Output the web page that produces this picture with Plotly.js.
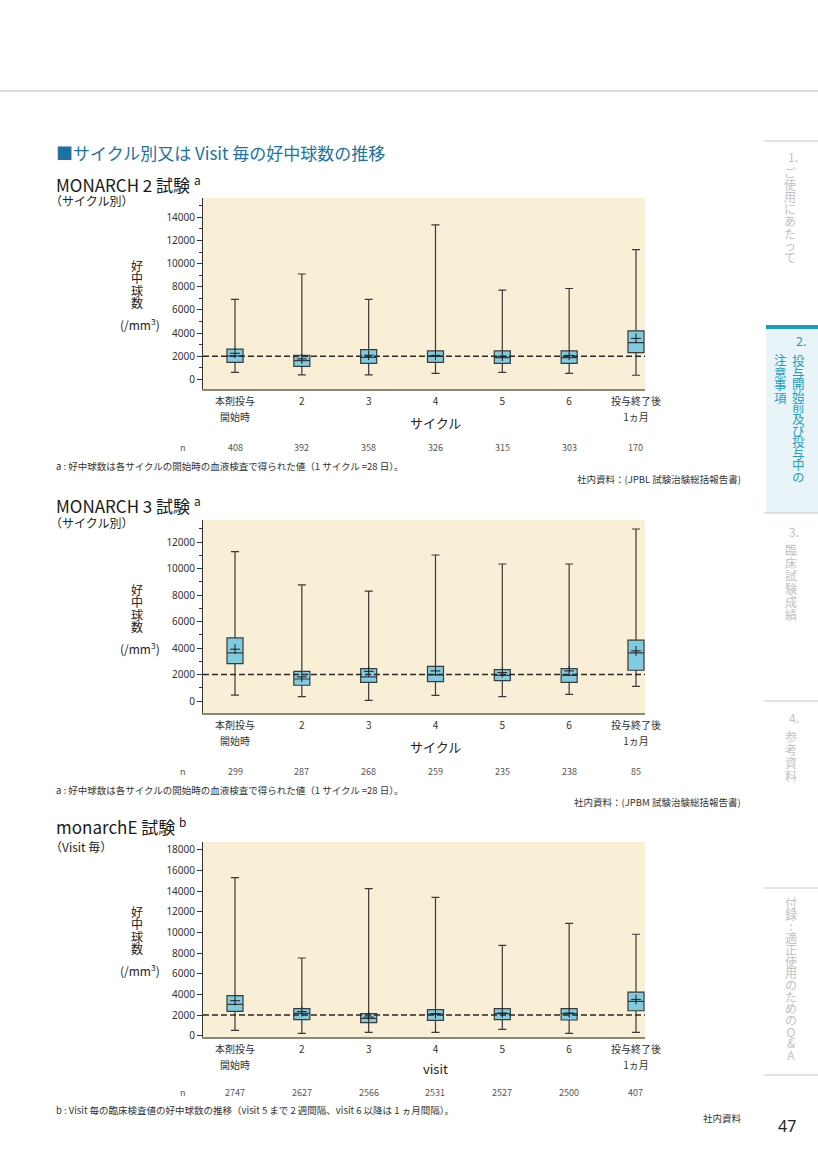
<!DOCTYPE html>
<html>
<head>
<meta charset="utf-8">
<script src="https://cdn.plot.ly/plotly-3.0.1.min.js"></script>
<style>
html,body{margin:0;padding:0;background:#fff;}
#chart{width:818px;height:1157px;}
</style>
</head>
<body>
<div id="chart"></div>
<script>
// ---------------- data ----------------
const categories = ['本剤投与<br>開始時', '2', '3', '4', '5', '6', '投与終了後<br>1ヵ月'];

// MONARCH 2 (cycle)
const m2Upper  = [6900, 9100, 6900, 13350, 7700, 7850, 11200];
const m2Q3     = [2600, 2080, 2560, 2450, 2450, 2450, 4180];
const m2Median = [2020, 1610, 1900, 1980, 1870, 1870, 3170];
const m2Q1     = [1470, 1120, 1380, 1470, 1380, 1380, 2300];
const m2Lower  = [600, 380, 380, 520, 600, 520, 350];
const m2Mean   = [2250, 1760, 2080, 2070, 1990, 2070, 3540];
const m2N      = [408, 392, 358, 326, 315, 303, 170];

// MONARCH 3 (cycle)
const m3Upper  = [11270, 8770, 8290, 11020, 10340, 10340, 12980];
const m3Q3     = [4760, 2240, 2450, 2620, 2370, 2450, 4590];
const m3Median = [3630, 1660, 1820, 1970, 1940, 1940, 3630];
const m3Q1     = [2820, 1190, 1410, 1460, 1540, 1410, 2320];
const m3Lower  = [450, 330, 50, 430, 330, 500, 1110];
const m3Mean   = [3910, 1820, 2240, 2270, 2140, 2270, 3780];
const m3N      = [299, 287, 268, 259, 235, 238, 85];

// monarchE (visit)
const mEUpper  = [15320, 7530, 14250, 13410, 8760, 10890, 9830];
const mEQ3     = [3880, 2620, 2130, 2520, 2620, 2620, 4230];
const mEMedian = [3040, 2170, 1680, 2100, 2130, 2130, 3330];
const mEQ1     = [2360, 1550, 1260, 1490, 1550, 1520, 2420];
const mELower  = [520, 230, 320, 320, 610, 230, 320];
const mEMean   = [3390, 2330, 1810, 2130, 2200, 2200, 3520];
const mEN      = [2747, 2627, 2566, 2531, 2527, 2500, 407];

const refLine = 2000;

// ---------------- helpers ----------------
const W = 818, H = 1157;
const px = x => x / W;
const py = y => 1 - y / H;
const idx = categories.map((_, i) => i);
const JP = '"Noto Sans CJK JP", "Noto Sans", sans-serif';

const BOX_FILL = '#80cbe0';
const BOX_LINE = '#3a3a3a';

// line height in Plotly multi-line text = 1.3 * base font size; glyph size set by span
const sized = (t, s) => t.split('<br>').map(l => '<span style="font-size:' + s + 'px">' + l + '</span>').join('<br>');

function boxTrace(q1, med, q3, lo, hi, xa, ya) {
  return {
    type: 'box', x: idx, q1: q1, median: med, q3: q3,
    lowerfence: lo, upperfence: hi,
    xaxis: xa, yaxis: ya, width: 0.24, whiskerwidth: 0.5,
    fillcolor: BOX_FILL, line: {color: BOX_LINE, width: 1.2},
    boxpoints: false, hoverinfo: 'skip', showlegend: false
  };
}
function meanTrace(mean, xa, ya) {
  return {
    type: 'scatter', mode: 'markers', x: idx, y: mean, xaxis: xa, yaxis: ya,
    marker: {symbol: 'cross-thin', size: 7, line: {width: 1, color: '#1a1a1a'}},
    hoverinfo: 'skip', showlegend: false
  };
}

const data = [
  boxTrace(m2Q1, m2Median, m2Q3, m2Lower, m2Upper, 'x', 'y'),
  meanTrace(m2Mean, 'x', 'y'),
  boxTrace(m3Q1, m3Median, m3Q3, m3Lower, m3Upper, 'x2', 'y2'),
  meanTrace(m3Mean, 'x2', 'y2'),
  boxTrace(mEQ1, mEMedian, mEQ3, mELower, mEUpper, 'x3', 'y3'),
  meanTrace(mEMean, 'x3', 'y3')
];

function xAxis(anchor) {
  return {
    domain: [px(203), px(645)], range: [-0.479, 6.135], anchor: anchor,
    tickmode: 'array', tickvals: idx, ticktext: categories.map(c => sized(c, 10)),
    showline: true, linecolor: '#8b8878', linewidth: 1.5, ticks: '',
    showgrid: false, zeroline: false, fixedrange: true,
    tickfont: {family: JP, size: 12, color: '#333'}
  };
}
function yAxis(anchor, top, bottom, range, dtick, minor) {
  const a = {
    domain: [py(bottom), py(top)], range: range, anchor: anchor,
    tick0: 0, dtick: dtick, tickformat: 'd',
    ticks: 'outside', ticklen: 5, tickcolor: '#333', tickwidth: 1,
    showline: true, linecolor: '#333', linewidth: 1,
    showgrid: false, zeroline: false, fixedrange: true,
    tickfont: {family: '"Noto Sans", sans-serif', size: 10, color: '#333'}
  };
  if (minor) a.minor = {dtick: 1000, tick0: 0, ticks: 'outside', ticklen: 3, tickcolor: '#333', showgrid: false};
  return a;
}

const layout = {
  width: W, height: H, margin: {l: 0, r: 0, t: 0, b: 0},
  paper_bgcolor: '#ffffff', plot_bgcolor: '#f8efd6',
  showlegend: false,
  xaxis: xAxis('y'),
  yaxis: yAxis('x', 198, 389, [-838, 15670], 2000, true),
  xaxis2: xAxis('y2'),
  yaxis2: yAxis('x2', 520, 713, [-906, 13660], 2000, true),
  xaxis3: xAxis('y3'),
  yaxis3: yAxis('x3', 842, 1037, [-126, 18770], 2000, false),
  shapes: [],
  annotations: []
};

// reference dashed lines at 2000
[['x', 'y'], ['x2', 'y2'], ['x3', 'y3']].forEach(([xa, ya]) => {
  layout.shapes.push({type: 'line', xref: xa + ' domain', x0: 0, x1: 1, yref: ya, y0: refLine, y1: refLine,
    line: {color: '#2a2a2a', width: 1.5, dash: '6px,3px'}, layer: 'above'});
});

// page decorations
layout.shapes.push({type: 'line', xref: 'paper', yref: 'paper', x0: 0, x1: 1, y0: py(91), y1: py(91), line: {color: '#b5b5b5', width: 1}});
layout.shapes.push({type: 'rect', xref: 'paper', yref: 'paper', x0: px(766), x1: 1, y0: py(513), y1: py(329), fillcolor: '#e8f4f7', line: {width: 0}, layer: 'below'});
layout.shapes.push({type: 'rect', xref: 'paper', yref: 'paper', x0: px(766), x1: 1, y0: py(329), y1: py(325), fillcolor: '#1d9cc4', line: {width: 0}});
[141, 513, 701, 888, 1075].forEach(y => {
  layout.shapes.push({type: 'line', xref: 'paper', yref: 'paper', x0: px(764), x1: 1, y0: py(y), y1: py(y), line: {color: '#c8c8c8', width: 1}});
});

function ann(text, x, y, opts) {
  layout.annotations.push(Object.assign({
    text: text, xref: 'paper', yref: 'paper', x: px(x), y: py(y),
    xanchor: 'left', yanchor: 'middle', showarrow: false,
    font: {family: JP, size: 10, color: '#333'}
  }, opts || {}));
}

// vertical stacked text as one annotation: first glyph centred at yFirst, glyph pitch = step
function vstack(str, x, yFirst, step, color, size) {
  const chars = Array.from(str);
  const base = step / 1.3;
  const text = chars.map(c => '<span style="font-size:' + size + 'px">' + c + '</span>').join('<br>');
  const yc = yFirst + (chars.length - 1) * step / 2;
  ann(text, x, yc, {xanchor: 'center', yanchor: 'middle', borderpad: 0, font: {family: JP, size: base, color: color}});
}

// titles
ann('■サイクル別又は Visit 毎の好中球数の推移', 54, 153, {font: {family: JP, size: 17, color: '#1b72a4'}});
ann('MONARCH 2 試験 <sup>a</sup>', 54, 184, {font: {family: JP, size: 17, color: '#1a1a1a'}});
ann('（サイクル別）', 48, 200, {font: {family: JP, size: 12, color: '#222'}});
ann('MONARCH 3 試験 <sup>a</sup>', 54, 505, {font: {family: JP, size: 17, color: '#1a1a1a'}});
ann('（サイクル別）', 48, 522, {font: {family: JP, size: 12, color: '#222'}});
ann('monarchE 試験 <sup>b</sup>', 54, 826, {font: {family: JP, size: 17, color: '#1a1a1a'}});
ann('（Visit 毎）', 48, 846, {font: {family: JP, size: 12, color: '#222'}});

// y-axis stacked labels
[[266, 324], [590, 648], [912, 970]].forEach(([y0, yu]) => {
  vstack('好中球数', 137, y0, 12.3, '#222', 12);
  ann('(/mm<sup>3</sup>)', 140, yu, {xanchor: 'center', font: {family: JP, size: 12, color: '#222'}});
});

// x-axis titles and n rows
const xTitles = ['サイクル', 'サイクル', 'visit'];
const xTitleY = [422, 746, 1068];
const nY = [447, 771, 1092];
const nVals = [m2N, m3N, mEN];
['x', 'x2', 'x3'].forEach((xa, k) => {
  layout.annotations.push({text: xTitles[k], xref: xa, yref: 'paper', x: 3, y: py(xTitleY[k]),
    xanchor: 'center', yanchor: 'middle', showarrow: false, font: {family: JP, size: 13, color: '#222'}});
  ann('n', 183, nY[k], {xanchor: 'center', font: {family: JP, size: 9, color: '#555'}});
  nVals[k].forEach((v, i) => {
    layout.annotations.push({text: String(v), xref: xa, yref: 'paper', x: i, y: py(nY[k]),
      xanchor: 'center', yanchor: 'middle', showarrow: false, font: {family: JP, size: 9, color: '#555'}});
  });
});

// footnotes and sources
ann('a : 好中球数は各サイクルの開始時の血液検査で得られた値（1 サイクル =28 日）。', 54, 466, {font: {family: JP, size: 9.5, color: '#333'}});
ann('社内資料：(JPBL 試験治験総括報告書)', 743, 479, {xanchor: 'right', font: {family: JP, size: 9.5, color: '#333'}});
ann('a : 好中球数は各サイクルの開始時の血液検査で得られた値（1 サイクル =28 日）。', 54, 790, {font: {family: JP, size: 9.5, color: '#333'}});
ann('社内資料：(JPBM 試験治験総括報告書)', 743, 802, {xanchor: 'right', font: {family: JP, size: 9.5, color: '#333'}});
ann('b : Visit 毎の臨床検査値の好中球数の推移（visit 5 まで 2 週間隔、visit 6 以降は 1 ヵ月間隔）。', 54, 1110, {font: {family: JP, size: 9.5, color: '#333'}});
ann('社内資料', 744, 1118, {xanchor: 'right', font: {family: JP, size: 9.5, color: '#333'}});
ann('47', 787, 1126, {xanchor: 'center', font: {family: '"Noto Sans", sans-serif', size: 16, color: '#222'}});

// side tabs (vertical text)
const GREY_TAB = '#c2c2c2';
const TEAL_TAB = '#1e9ec6';
ann('1.', 786, 156, {font: {family: JP, size: 12, color: GREY_TAB}});
vstack('ご使用にあたって', 790, 173, 12.1, GREY_TAB, 12);
ann('2.', 794, 341, {font: {family: JP, size: 12.5, color: TEAL_TAB}});
vstack('投与開始前及び投与中の', 798, 360, 11.6, TEAL_TAB, 12.5);
vstack('注意事項', 780, 360, 12.6, TEAL_TAB, 12.5);
ann('3.', 787, 531, {font: {family: JP, size: 12, color: GREY_TAB}});
vstack('臨床試験成績', 791, 549, 13, GREY_TAB, 12);
ann('4.', 787, 717, {font: {family: JP, size: 12, color: GREY_TAB}});
vstack('参考資料', 791, 736, 13, GREY_TAB, 12);
vstack('付録:適正使用のためのQ&A', 791, 902, 11.7, GREY_TAB, 12);

Plotly.newPlot('chart', data, layout, {displayModeBar: false, staticPlot: true});
</script>
</body>
</html>
